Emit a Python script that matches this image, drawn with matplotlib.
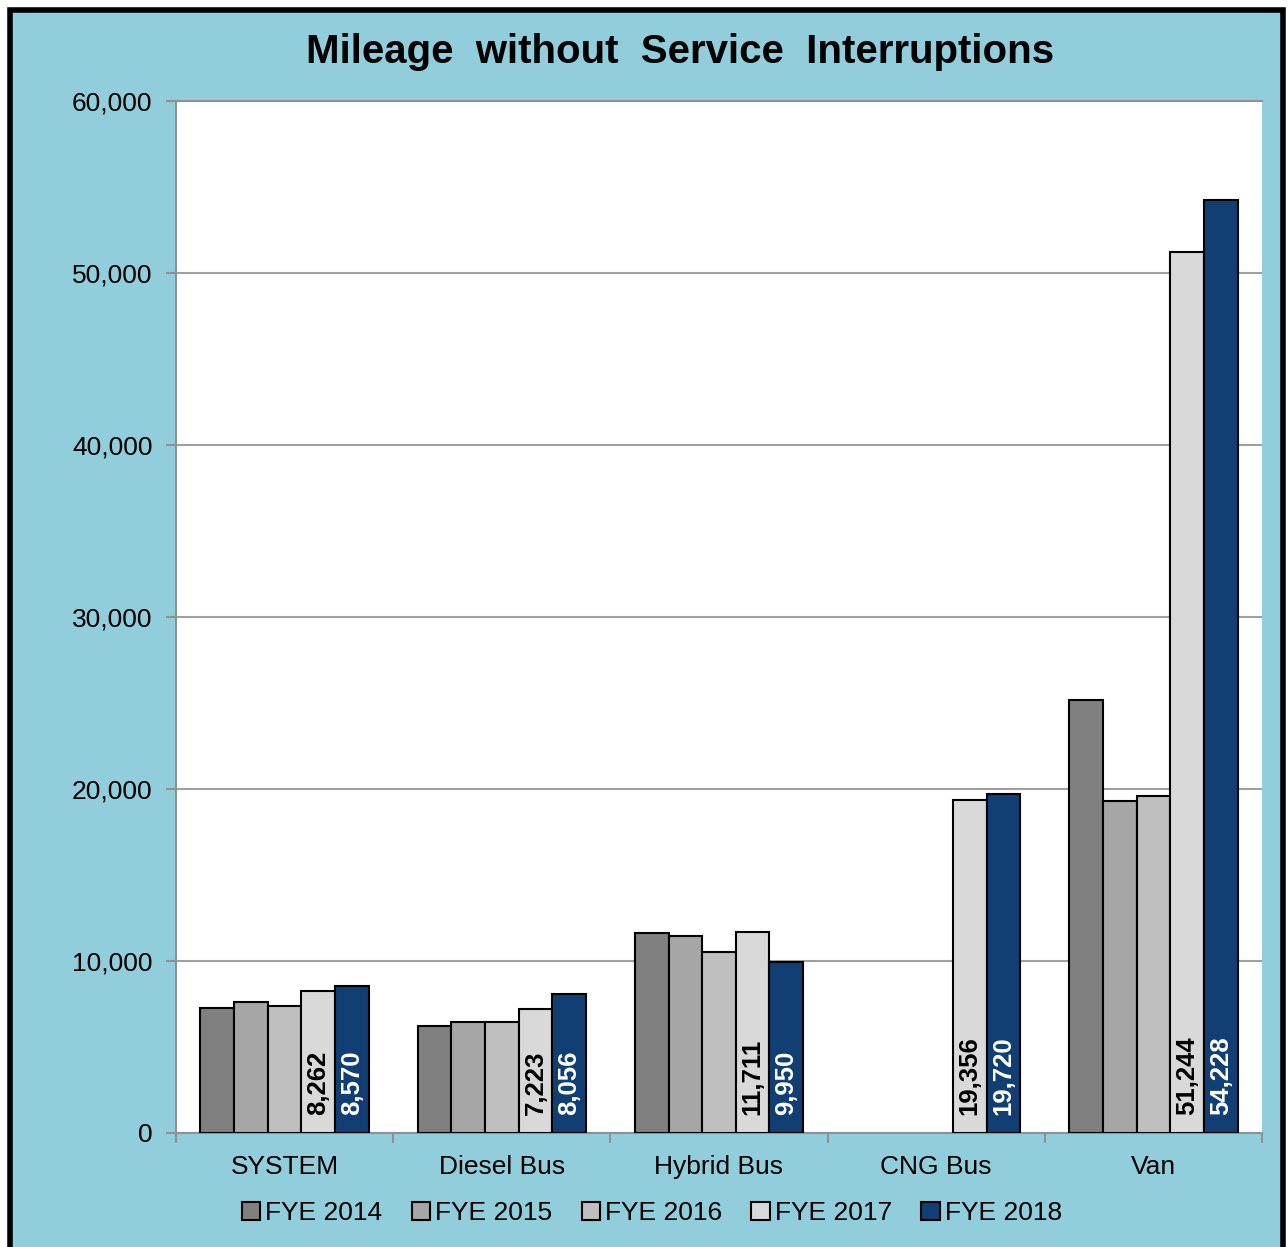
import numpy as np
import matplotlib
matplotlib.use("Agg")
import matplotlib.pyplot as plt
from matplotlib.patches import Rectangle
from matplotlib.ticker import FuncFormatter

plt.rcParams['font.family'] = ['Liberation Sans', 'DejaVu Sans']

categories = ["SYSTEM", "Diesel Bus", "Hybrid Bus", "CNG Bus", "Van"]
years = ["FYE 2014", "FYE 2015", "FYE 2016", "FYE 2017", "FYE 2018"]
fye2014 = [7270, 6220, 11630, np.nan, 25170]
fye2015 = [7600, 6450, 11470, np.nan, 19320]
fye2016 = [7380, 6450, 10540, np.nan, 19590]
fye2017 = [8262, 7223, 11711, 19356, 51244]
fye2018 = [8570, 8056, 9950, 19720, 54228]
series = [fye2014, fye2015, fye2016, fye2017, fye2018]
colors = ["#808080", "#A6A6A6", "#BFBFBF", "#D9D9D9", "#123F73"]

W, H = 1288, 1247
fig = plt.figure(figsize=(W / 100, H / 100), dpi=100)
fig.patch.set_facecolor("white")
fig.patches.append(Rectangle((10 / W, -0.02), 1273 / W, 1 - 10 / H + 0.02,
                             transform=fig.transFigure, facecolor="#92CDDC",
                             edgecolor="black", linewidth=4, zorder=-10))

ax = fig.add_axes([176 / W, 1 - 1133 / H, (1262 - 176) / W, (1133 - 101) / H])
ax.set_facecolor("white")

x = np.arange(len(categories))
bw = 0.155
for i, (vals, col, yr) in enumerate(zip(series, colors, years)):
    pos = x + (i - 2) * bw
    v = np.array(vals, dtype=float)
    ok = ~np.isnan(v)
    ax.bar(pos[ok], v[ok], width=bw, color=col, edgecolor="black",
           linewidth=1.5, label=yr, zorder=3)
    if i >= 3:
        tc = "black" if i == 3 else "white"
        for p, val in zip(pos[ok], v[ok]):
            ax.annotate(f"{int(val):,}", xy=(p, 0), xytext=(0, 13),
                        textcoords="offset points", rotation=90,
                        ha="center", va="bottom", fontsize=18.5,
                        fontweight="bold", color=tc, zorder=4)

ax.set_ylim(0, 60000)
ax.set_xlim(-0.5, len(categories) - 0.5)
ax.set_yticks(range(0, 60001, 10000))
ax.yaxis.set_major_formatter(FuncFormatter(lambda v, p: f"{int(v):,}"))
ax.grid(axis="y", color="#A0A0A0", linewidth=1.5, zorder=0)

ax.set_xticks(np.arange(-0.5, len(categories), 1.0))
ax.set_xticklabels([])
ax.set_xticks(x, minor=True)
ax.set_xticklabels(categories, minor=True)
ax.tick_params(axis="x", which="major", length=7, width=1.5, color="#909090")
ax.tick_params(axis="x", which="minor", length=0, pad=16, labelsize=19)
ax.tick_params(axis="y", length=7, width=1.5, color="#909090", pad=10,
               labelsize=19)

for s in ["left", "bottom", "top"]:
    ax.spines[s].set_color("#909090")
    ax.spines[s].set_linewidth(1.5)
ax.spines["right"].set_visible(False)

fig.text(680 / W, 1 - 52 / H, "Mileage  without  Service  Interruptions",
         ha="center", va="center", fontsize=29, fontweight="bold")

fig.legend(loc="center", bbox_to_anchor=(652 / W, 1 - 1213 / H), ncol=5,
           frameon=False, fontsize=19, handlelength=0.7, handleheight=0.7,
           handletextpad=0.2, columnspacing=1.1)

fig.savefig("out.png", dpi=100, facecolor=fig.get_facecolor())
